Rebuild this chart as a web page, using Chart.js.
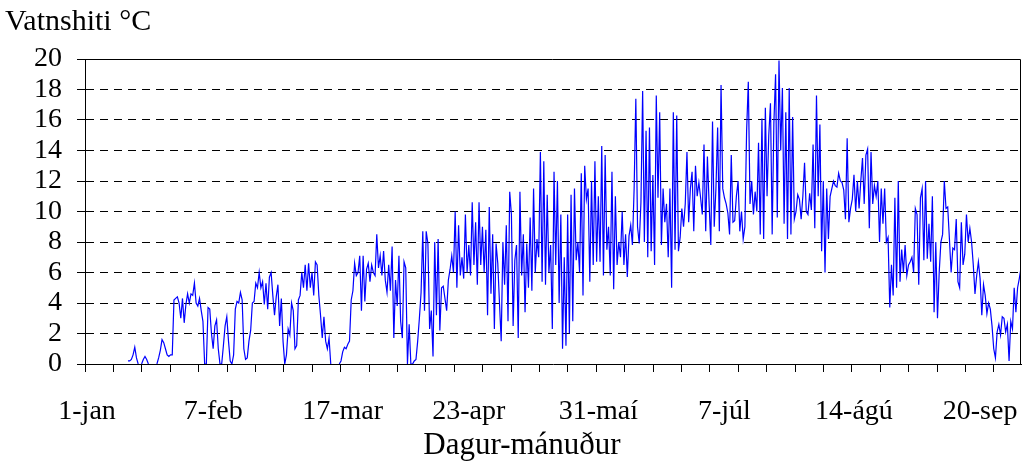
<!DOCTYPE html>
<html>
<head>
<meta charset="utf-8">
<script src="https://cdn.jsdelivr.net/npm/chart.js@4/dist/chart.umd.min.js"></script>
<style>
  html, body { margin: 0; padding: 0; background: #fff; }
</style>
</head>
<body>
<canvas id="tempChart" width="1026" height="470"></canvas>
<script>
// dagur 0 = 1. janúar, mæling á hálfs dags fresti
var startDay = 0;
var stepDays = 0.5;

var jan = [
  null, null, null, null, null, null, null, null, null, null, null, null,
  null, null, null, null, null, null, null, null, null, null, null, null,
  0.2, 0.2, 0.3, 0.6, 1.1, 0.4, 0, null, 0, 0.3, 0.5, 0.3, 0, null, null, null, null,
  0, 0.4, 0.9, 1.6, 1.4, 1.0, 0.6, 0.5, 0.6, 0.6,
  4.2, 4.3, 4.4, 4.0, 3.0, 4.3, 2.7, 3.9, 4.6, 4.0, 4.6
];
var feb = [
  4.5, 5.3, 4.0, 3.8, 4.3, 3.5, 2.8, 0, 0, 3.7, 3.6, 2.0, 1.0, 2.5, 2.9,
  1.0, 0, 0, 1.2, 2.5, 3.1, 1.5, 0.2, 0, 0.6, 3.6, 4.1, 4.0, 4.7, 4.2,
  1.0, 0.3, 0.4, 1.5, 2.2, 4.0, 4.1, 5.3, 5.0, 6.0, 5.0, 5.4, 3.9,
  5.3, 3.6, 5.7, 6.0, 4.5, 3.2, 4.4, 5.2, 2.5, 4.3, 1.5, 0, 0.6
];
var mar = [
  2.3, 1.9, 4.0, 3.5, 1.0, 1.2, 4.2, 4.5, 6.0, 5.0,
  6.5, 4.8, 6.6, 5.0, 6.0, 4.5, 6.7, 6.5, 4.5, 3.2,
  1.7, 3.1, 1.5, 1.0, 1.7, 0, null, null, null, null,
  0, 0.2, 0.8, 1.1, 1.0, 1.3, 1.5, 4.2, 4.8, 6.6,
  5.8, 6.0, 7.1, 3.5, 7.1, 4.1, 6.2, 6.6, 5.4, 6.5,
  6.0, 5.8, 8.5, 6.3, 7.1, 5.8, 7.4, 5.5, 4.7, 6.5,
  4.8, 7.7
];
var apr = [
  1.7, 5.5, 3.8, 7.1, 2.8, 1.7, 6.7, 6.3, 0, 2.6,
  0, 0, 0.2, 0.3, 1.5, 3.0, 4.7, 8.7, 3.5, 8.7,
  7.9, 2.3, 3.5, 0.5, 8.0, 3.2, 8.2, 2.2, 5.0, 5.1,
  4.3, 3.5, 5.5, 6.2, 7.1, 6.0, 10.0, 5.0, 9.1, 5.8,
  7.0, 5.6, 9.8, 6.0, 7.8, 5.8, 10.6, 6.5, 9.3, 5.2,
  10.6, 6.5, 9.0, 6.0, 8.8, 3.2, 10.3, 4.6, 8.5, 2.3
];
var mai = [
  7.9, 6.6, 4.0, 1.5, 8.0, 5.2, 9.1, 2.8, 11.3, 9.8,
  2.5, 6.8, 7.8, 1.7, 11.3, 5.8, 8.5, 3.4, 7.9, 5.0,
  9.6, 4.8, 11.5, 6.0, 8.2, 7.0, 13.9, 5.4, 13.3, 5.2,
  11.1, 6.0, 7.8, 2.3, 12.6, 6.5, 12.0, 4.0, 9.8, 1.0,
  7.0, 1.2, 9.8, 2.0, 11.1, 2.8, 11.5, 6.8, 8.0, 6.0,
  12.5, 4.5, 13.0, 10.8, 11.5, 5.4, 12.0, 6.5, 13.3, 6.7,
  11.0, 6.7
];
var jun = [
  14.3, 5.8, 13.7, 7.5, 9.0, 5.8, 12.6, 4.9, 11.0, 6.5,
  8.0, 7.0, 10.0, 6.5, 8.5, 5.7, 8.4, 9.1, 7.8, 11.5,
  17.4, 9.0, 7.9, 10.6, 17.9, 8.0, 15.3, 7.0, 15.5, 7.4,
  12.4, 6.5, 17.6, 10.9, 16.5, 7.8, 11.5, 9.3, 10.5, 7.0,
  11.5, 5.0, 16.5, 7.5, 16.3, 7.4, 8.3, 10.2, 9.0, 10.5,
  13.9, 9.3, 11.5, 12.6, 8.7, 13.0, 11.0, 11.9, 10.9, 9.8
];
var jul = [
  14.4, 8.7, 13.6, 10.5, 7.8, 15.9, 9.0, 11.5, 15.5, 8.7,
  18.3, 11.5, 10.9, 10.5, 9.9, 8.5, 13.7, 9.3, 9.4, 11.0,
  12.0, 8.7, 10.0, 8.2, 9.0, 15.3, 18.5, 10.5, 12.0, 9.8,
  11.3, 10.0, 14.5, 8.5, 16.1, 8.2, 16.8, 11.0, 15.0, 17.1,
  8.5, 15.8, 19.0, 9.6, 19.9, 14.0, 18.1, 9.2, 16.5, 8.2,
  18.1, 8.5, 16.2, 9.5, 10.0, 11.1, 10.8, 9.5, 11.0, 13.2,
  10.0, 9.8
];
var agu = [
  11.2, 10.1, 14.4, 8.9, 17.6, 11.0, 15.7, 7.4, 12.0, 6.0,
  11.5, 8.2, 11.0, 11.5, 12.0, 11.7, 11.6, 12.5, 12.0, 11.9,
  11.4, 9.5, 14.8, 9.3, 10.2, 10.8, 12.4, 10.0, 12.0, 10.2,
  12.0, 13.5, 10.5, 13.7, 14.1, 8.9, 13.9, 10.5, 11.7, 11.0,
  12.0, 8.0, 11.5, 9.2, 11.5, 8.0, 8.3, 3.7, 6.5, 4.5,
  10.9, 5.0, 12.0, 5.4, 7.5, 6.0, 7.8, 5.8, 6.5, 6.7,
  7.0, 6.0
];
var sep = [
  10.2, 9.8, 5.2, 10.9, 11.5, 6.8, 12.0, 6.9, 9.2, 6.7,
  11.0, 3.4, 8.0, 3.0, 6.0, 8.0, 8.5, 12.0, 10.2, 10.3,
  8.2, 6.0, 7.6, 7.5, 9.5, 5.4, 5.0, 9.3, 6.5, 7.2,
  9.8, 8.0, 8.9, 8.0, 6.5, 4.6, 5.8, 6.7, 5.6, 3.2,
  5.2, 4.5, 3.3, 4.0, 3.6, 2.5, 1.0, 0.4, 2.1, 2.6,
  1.9, 3.1, 3.0, 2.1, 2.6, 0.2, 2.8, 2.3, 5.0, 3.4,
  5.0, 5.6, 6.3
];

var labelDays = [0, 37, 75, 112, 150, 187, 225, 262];
var labelText = ['1-jan', '7-feb', '17-mar', '23-apr', '31-maí', '7-júl', '14-ágú', '20-sep'];

var temps = [].concat(jan, feb, mar, apr, mai, jun, jul, agu, sep);
var points = temps.map(function (v, i) {
  return { x: startDay + i * stepDays, y: v };
});

var serif = 'Liberation Serif, Times New Roman, serif';

// rammi efst og til hægri + titill x-áss
var frame = {
  id: 'frame',
  afterDatasetsDraw: function (chart) {
    var a = chart.chartArea;
    var c = chart.ctx;
    c.save();
    c.strokeStyle = '#000';
    c.lineWidth = 1;
    c.beginPath();
    c.moveTo(a.left, a.top + 0.5);
    c.lineTo(a.right - 0.5, a.top + 0.5);
    c.lineTo(a.right - 0.5, a.bottom);
    c.stroke();
    c.fillStyle = '#000';
    c.font = '31px ' + serif;
    c.textAlign = 'center';
    c.textBaseline = 'middle';
    c.fillText('Dagur-mánuður', 522, 446);
    c.restore();
  }
};

var ctx = document.getElementById('tempChart').getContext('2d');
var chart = new Chart(ctx, {
  type: 'line',
  data: {
    datasets: [{
      data: points,
      borderColor: '#0000ff',
      borderWidth: 1.2,
      pointRadius: 0,
      tension: 0,
      spanGaps: false
    }]
  },
  options: {
    responsive: false,
    animation: false,
    devicePixelRatio: 1,
    layout: { padding: { left: 5, right: 5, top: 0, bottom: 0 } },
    plugins: {
      legend: { display: false },
      tooltip: { enabled: false },
      title: {
        display: true,
        text: 'Vatnshiti °C',
        align: 'start',
        color: '#000',
        font: { family: serif, size: 30, weight: 'normal' },
        padding: { top: 4.5, bottom: 18.5 }
      }
    },
    scales: {
      x: {
        type: 'linear',
        min: -0.6,
        max: 274,
        afterFit: function (s) { s.height = 106; },
        afterBuildTicks: function (s) {
          var t = [];
          labelDays.forEach(function (d, i) { t.push({ value: d, lbl: labelText[i] }); });
          for (var d = -0.6; d <= 274; d += 200 / 24) t.push({ value: d });
          s.ticks = t;
        },
        ticks: {
          autoSkip: false,
          maxRotation: 0,
          padding: 23,
          color: '#000',
          font: { family: serif, size: 28 },
          callback: function (v, i, ticks) { return ticks[i].lbl || ''; }
        },
        grid: {
          drawOnChartArea: false,
          tickLength: 8,
          tickColor: function (c) { return c.tick && c.tick.lbl ? 'rgba(0,0,0,0)' : '#000'; }
        },
        border: { color: '#000', width: 1 }
      },
      y: {
        min: 0,
        max: 20,
        afterFit: function (s) { s.width = 80; },
        ticks: {
          stepSize: 2,
          autoSkip: false,
          padding: 15,
          color: '#000',
          font: { family: serif, size: 28 }
        },
        grid: {
          color: function (c) {
            return c.tick && (c.tick.value === 0 || c.tick.value === 20) ? 'rgba(0,0,0,0)' : '#000';
          },
          tickColor: '#000',
          tickLength: 8
        },
        border: { color: '#000', width: 1, dash: [8, 6] }
      }
    }
  },
  plugins: [frame]
});
</script>
</body>
</html>
